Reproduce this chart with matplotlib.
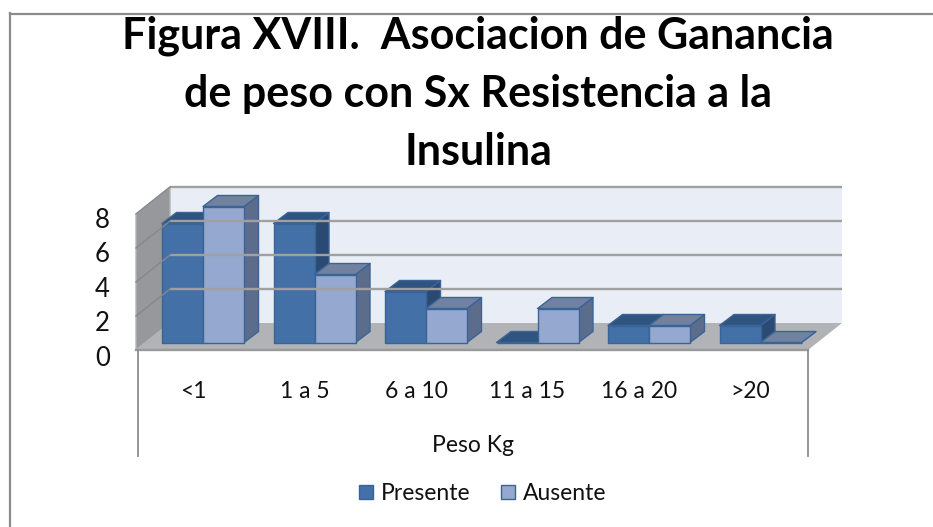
"""Excel style pseudo-3D column chart, drawn on one full-figure axes."""
import matplotlib
matplotlib.use("Agg")
import matplotlib.pyplot as plt
from matplotlib.patches import Polygon, Rectangle

W, H = 933, 527

categories = ["<1", "1 a 5", "6 a 10", "11 a 15", "16 a 20", ">20"]
presente = [7, 7, 3, 0, 1, 1]
ausente = [8, 4, 2, 2, 1, 0]
y_ticks = [0, 2, 4, 6, 8]
title_lines = ["Figura XVIII.  Asociacion de Ganancia",
               "de peso con Sx Resistencia a la",
               "Insulina"]

# one category = 111.5 px, one value unit = 17 px
CAT_PX = 111.5
VAL_PX = 17.0
X0_PX = 203.0   # pixel x of the seam between the two bars of category 0
Y0_PX = 342.5   # pixel y of value 0 at the front of the bars
BAR_W = 41.0 / CAT_PX
DEPTH_X = 14.5 / CAT_PX
DEPTH_Y = 11.0 / VAL_PX

# floor / wall extents, in the same units
LEFT = (136 - X0_PX) / CAT_PX
RIGHT = (808 - X0_PX) / CAT_PX
FLOOR_FRONT = (Y0_PX - 350) / VAL_PX
WALL_DX = 34.0 / CAT_PX
WALL_DY = 27.0 / VAL_PX

_C_PRES = ("#4470A8", "#2F5480", "#2B4A73")   # front, top, side
_C_AUS = ("#94A8D0", "#70829F", "#5C6D8C")
_C_EDGE = "#3A6496"
_C_WALL = "#E9EDF6"
_C_FLOOR = "#B1B3B6"
_C_SIDEWALL = "#96989B"
_C_GRID = "#A0A0A0"
_C_FRAME = "#8C8C8C"
_C_TEXT = "#111111"


def px_x(p):
    return (p - X0_PX) / CAT_PX


def px_y(p):
    return (Y0_PX - p) / VAL_PX


def draw_bar(ax, x, v, colours):
    """Front face plus oblique top and side faces."""
    front, top, side = colours
    kw = dict(edgecolor=_C_EDGE, lw=1.0, joinstyle="round")
    ax.add_patch(Polygon([(x + BAR_W, 0), (x + BAR_W + DEPTH_X, DEPTH_Y),
                          (x + BAR_W + DEPTH_X, v + DEPTH_Y), (x + BAR_W, v)],
                         facecolor=side, **kw))
    ax.add_patch(Polygon([(x, v), (x + DEPTH_X, v + DEPTH_Y),
                          (x + BAR_W + DEPTH_X, v + DEPTH_Y), (x + BAR_W, v)],
                         facecolor=top, **kw))
    ax.add_patch(Rectangle((x, 0), BAR_W, v, facecolor=front, **kw))


plt.rcParams["font.family"] = ["Lato", "DejaVu Sans"]
fig = plt.figure(figsize=(W / 100, H / 100), dpi=100)
ax = fig.add_axes([0, 0, 1, 1])
ax.set_xlim(px_x(0), px_x(W))
ax.set_ylim(px_y(H), px_y(0))
ax.axis("off")

# chart frame: only top and left edges are inside the picture
ax.plot([px_x(10), px_x(W)], [px_y(13.5)] * 2, color=_C_FRAME, lw=1.6)
ax.plot([px_x(10.5)] * 2, [px_y(13), px_y(H)], color=_C_FRAME, lw=1.6)

# back wall, side wall, floor
back_l, back_r = LEFT + WALL_DX, RIGHT + WALL_DX
floor_back = FLOOR_FRONT + WALL_DY
top_val = y_ticks[-1]
ax.add_patch(Rectangle((back_l, floor_back), back_r - back_l, top_val,
                       facecolor=_C_WALL, edgecolor="none"))
ax.add_patch(Polygon([(LEFT, FLOOR_FRONT), (back_l, floor_back),
                      (back_l, floor_back + top_val), (LEFT, FLOOR_FRONT + top_val)],
                     facecolor=_C_SIDEWALL, edgecolor="#B4B4B4", lw=1.0))
ax.add_patch(Polygon([(LEFT, FLOOR_FRONT), (back_l, floor_back),
                      (back_r, floor_back), (RIGHT, FLOOR_FRONT)],
                     facecolor=_C_FLOOR, edgecolor="none"))

# gridlines run along the back wall and fold down the side wall
for t in y_ticks[1:]:
    ax.plot([back_l, back_r], [floor_back + t] * 2, color=_C_GRID, lw=1.7,
            solid_capstyle="butt")
    ax.plot([LEFT, back_l], [FLOOR_FRONT + t, floor_back + t], color="#85878A", lw=1.0)
for t in y_ticks:
    ax.text(px_x(110), FLOOR_FRONT + t * 1.015 - 0.5, str(t), ha="right", va="center",
            fontsize=18.5, color=_C_TEXT)
ax.plot([LEFT, RIGHT], [FLOOR_FRONT] * 2, color="#9A9A9A", lw=1.7)

# bars, left to right keeps overlaps right
for i in range(len(categories)):
    draw_bar(ax, i - BAR_W, presente[i], _C_PRES)
    draw_bar(ax, i, ausente[i], _C_AUS)
    ax.text(i - 0.09, px_y(392), categories[i], ha="center", va="center",
            fontsize=16.5, color=_C_TEXT)

# multi-level axis brackets
for xb in (LEFT + 1.5 / CAT_PX, RIGHT):
    ax.plot([xb, xb], [FLOOR_FRONT, px_y(456)], color=_C_FRAME, lw=1.3)
ax.text(px_x(473), px_y(446), "Peso Kg", ha="center", va="center",
        fontsize=16.5, color=_C_TEXT)

# title
for line, py in zip(title_lines, (48, 107, 165)):
    ax.text(px_x(478), px_y(py), line, ha="center", va="baseline",
            fontsize=31, fontweight="bold", color="#000000")

# legend
for px, col, name in ((359, _C_PRES[0], "Presente"), (501, _C_AUS[0], "Ausente")):
    ax.add_patch(Rectangle((px_x(px), px_y(499)), 14 / CAT_PX, 14 / VAL_PX,
                           facecolor=col, edgecolor=_C_EDGE, lw=1.0))
    ax.text(px_x(px + 22), px_y(494), name, ha="left", va="center",
            fontsize=16.5, color=_C_TEXT)

fig.savefig("out.png", dpi=100)
plt.close(fig)
